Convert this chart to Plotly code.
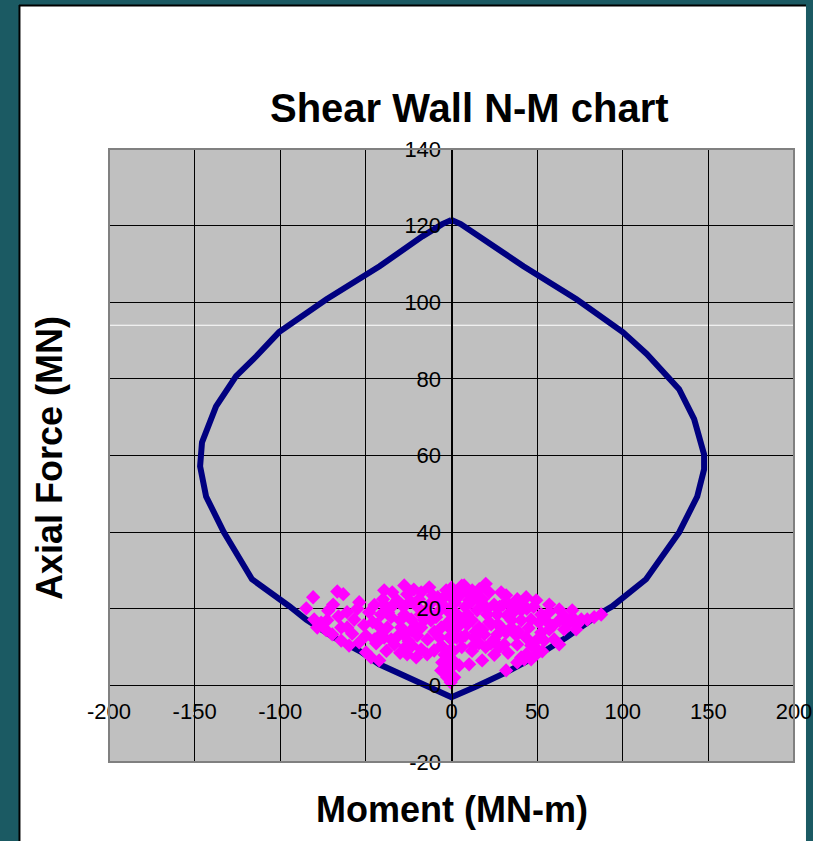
import plotly.graph_objects as go

# Interaction envelope (capacity curve)
env_M = [0, -5.4, -17, -42, -73, -100.7, -114, -125.8, -137.5, -145.7, -146.8, -143.3, -133,
         -116.5, -94.5, -84.9, -69.7, -52.3, -42.2, -23, 0, 14.4, 23.8, 31.9, 49.5, 67, 88,
         93.8, 113.6, 133, 143.5, 147.5, 147.5, 141.7, 132.9, 122, 114, 100, 73, 42, 17, 5.4, 0]
env_N = [121.5, 120.4, 117.2, 109.4, 100.8, 92.2, 85.9, 80.7, 72.8, 63.4, 57.2, 49.3, 40,
         27.7, 20.6, 17.2, 12.8, 8.6, 5.5, 1.6, -3.1, -0.3, 1.6, 3.4, 7.6, 12.5, 19.1,
         20.6, 27.7, 40, 49.3, 56.4, 60.3, 69.5, 77.3, 82.5, 86.5, 92.2, 100.8, 109.4, 117.2, 120.4, 121.5]

# Demand points (moment, axial force)
dem_M = [-80.8, -84.8, -66.7, -63.2, -69.1, -53.9, -61, -56.8, -80.2, -76.1, -72.6, -78.4, -73.2,
         -69.6, -64.4, -60.9, -64.4, -59.8, -53.9, -51.1, -48.1, -49.9, -47,
         -39.3, -34.6, -27.6, -25.9, -17.7, -13.0, -3.1, -39.3, -31.7, -41.1, -35.2, -27.6, -23.5,
         -43.4, -37.5, -29.4, -23.5, -17.7, -39.3, -35.2, -27.6, -23.0, -17.7, -14.2, -10.1, -6.0,
         -5.4, -6.0, -2.5, -42.2, -9.0, -6.0, -2.5, -16.0, -33.5, -25.9, -20.6, -1.3, -4.3, -0.2,
         7.4, 12.1, 16.2, 22.0, 29.0, 31.9, 10.3, 17.3, 24.9, 38.4, 43.6, 37.8, 40.7, 3.3, 9.2,
         15.0, 20.8, 26.7, 32.5, 3.3, 9.2, 16.2, 23.2, 29.0, 34.9, 40.7, 46.5, 5.7, 13.3, 19.1,
         26.7, 31.9, 37.8, 43.6, 38.4, 46.5, 43.6, 40.7, 46.5, 4.5, 10.3, 17.9, 31.9, 1.6, 24.9, 30.8,
         49.5, 57.1, 62.9, 70.5, 52.4, 51.2, 57.1, 62.9, 65.8, 57.1, 52.4, 49.5, 54.1, 60.0, 62.9,
         50.0, 49.5, 70.5, 73.4, 75.8, 79.3, 83.3, 87.4, 72.8,
         -0.2, -0.2, -0.2, -0.2, -0.2, -0.2, -0.5, -1.3, 38.4, 42.5, 53.0,
         -20, -12, -8, -14, -20, -30, -28, -10, 2, 5, 8, 12, 18, 22, 28, 34, 6, 12, 20, -4, 0, -3,
         3, 25, 14, -18, -24, -45, -45, -50, -38, -30, 35, 44, 28, 2, -2, 16, -8, 10, -36, -25, -12,
         -44, -41, -37, -33, -31, -27, -21, -19, -15, -11, -7, -5, -1, 1, 3, 6, 8, 11, 13, 15, 18,
         21, 23, 27, 30, 33, 36, 39, 42, 45, 48, 55, 59, 66, 68, -58, -66, -72, -55, -46, -40, -22,
         0, 6, 20]
dem_N = [23.0, 20.1, 24.5, 23.8, 21.1, 21.7, 19.1, 17.2, 17.2, 16.4, 17.0, 15.1, 14.4,
         13.3, 15.1, 15.1, 11.7, 10.4, 11.2, 15.7, 19.1, 8.6, 7.3,
         24.8, 24.3, 26.1, 23.8, 24.3, 25.6, 24.8, 21.1, 22.2, 18.5, 17.8, 18.5, 17.2,
         15.9, 15.1, 15.1, 14.4, 15.1, 12.5, 12.0, 13.1, 10.4, 9.4, 8.1, 9.1, 10.4,
         6.0, 3.9, 2.1, 6.5, 17.8, 15.1, 19.6, 17.0, 10.7, 8.1, 7.3, 12.5, 23.0, 23.0,
         26.1, 24.8, 25.1, 24.3, 24.3, 23.5, 22.2, 21.7, 21.1, 22.5, 23.0, 20.4, 19.6, 18.5, 18.5,
         19.6, 18.5, 18.5, 18.3, 15.1, 15.9, 15.1, 15.9, 15.1, 15.1, 17.0, 17.2, 12.5, 12.5, 13.3,
         13.3, 13.8, 13.1, 12.5, 10.7, 10.4, 8.1, 7.3, 6.8, 5.2, 5.5, 6.5, 3.9, 2.1, 12.0, 10.7,
         22.2, 21.1, 19.8, 19.6, 18.5, 16.4, 19.1, 17.0, 14.6, 14.6, 13.8, 11.7, 11.7, 12.0, 10.7,
         9.4, 8.1, 17.8, 15.9, 17.2, 17.2, 17.8, 18.5, 14.6,
         19.8, 17.2, 14.6, 9.4, 6.8, 4.7, 0.8, 2.3, 6.0, 6.8, 8.9,
         20.5, 21.5, 19, 12, 13, 17, 20.5, 14, 21.5, 23.5, 20.5, 17, 22.5, 16.5, 20.5, 21, 10, 9, 10,
         8, 12, 16, 12.5, 8, 14, 18.5, 22, 21, 12, 13, 9, 8.5, 17, 20, 10, 6, 4.5, 11, 23, 24, 20,
         11.5, 17,
         11, 13.5, 19, 21.5, 13, 10, 15.5, 22.5, 19.5, 23.5, 12.5, 21, 15, 9, 24.5, 16.5, 13, 21.5,
         10.5, 23, 14.5, 20, 11, 16, 21, 8.5, 19, 14, 21, 15, 20.5, 17, 15.5, 18, 16, 13.5, 18,
         19.5, 20, 16.5, 22.5, 25, 25.5, 26, 26.5]

x_ticks = [-200, -150, -100, -50, 0, 50, 100, 150, 200]
x_tick_labels = ["-200", "-150", "-100", "-50", "0", "50", "100", "150", "200"]
y_ticks = [-20, 0, 20, 40, 60, 80, 100, 120, 140]
y_tick_labels = ["-20", "0", "20", "40", "60", "80", "100", "120", "140"]

FONT = "Liberation Sans, Arial, sans-serif"
TEAL = "#1b5a63"

fig = go.Figure()
fig.add_trace(go.Scatter(x=env_M, y=env_N, mode="lines",
                         line=dict(color="#000080", width=6), hoverinfo="skip"))
fig.add_trace(go.Scatter(x=dem_M, y=dem_N, mode="markers",
                         marker=dict(symbol="diamond", size=11, color="#FF00FF",
                                     line=dict(width=0))))

fig.update_layout(
    width=813, height=841, autosize=False,
    margin=dict(l=109, r=19, t=149, b=79, autoexpand=False),
    paper_bgcolor="white", plot_bgcolor="#C0C0C0",
    showlegend=False,
    font=dict(family=FONT, color="black"),
)
fig.update_xaxes(range=[-200, 200], tickvals=x_ticks, ticktext=x_tick_labels,
                 showgrid=True, gridcolor="black", gridwidth=1, zeroline=False,
                 showline=True, linecolor="black", linewidth=1,
                 ticks="outside", ticklen=6, tickcolor="black",
                 anchor="free", position=0.125, automargin=False,
                 tickfont=dict(size=22, family=FONT, color="black"))
fig.update_yaxes(range=[-20, 140], tickvals=y_ticks, ticktext=y_tick_labels,
                 showgrid=True, gridcolor="black", gridwidth=1, zeroline=False,
                 showline=True, linecolor="black", linewidth=1,
                 ticks="outside", ticklen=6, tickcolor="black",
                 anchor="free", position=0.5, side="left", automargin=False,
                 tickfont=dict(size=22, family=FONT, color="black"))

shapes = [
    # teal surroundings
    dict(type="rect", xref="paper", yref="paper", x0=-0.17, x1=-0.1314, y0=-0.14, y1=1.26,
         fillcolor=TEAL, line=dict(width=0), layer="below"),
    dict(type="rect", xref="paper", yref="paper", x0=1.0175, x1=1.04, y0=-0.14, y1=1.26,
         fillcolor=TEAL, line=dict(width=0), layer="below"),
    dict(type="rect", xref="paper", yref="paper", x0=-0.17, x1=1.04, y0=1.2349, y1=1.26,
         fillcolor=TEAL, line=dict(width=0), layer="below"),
    # black panel edges
    dict(type="line", xref="paper", yref="paper", x0=-0.1314, x1=1.0175, y0=1.2341, y1=1.2341,
         line=dict(color="black", width=2)),
    dict(type="line", xref="paper", yref="paper", x0=-0.1307, x1=-0.1307, y0=-0.14, y1=1.2349,
         line=dict(color="black", width=2)),
    # thin white artifact line
    dict(type="line", xref="paper", yref="y", x0=0, x1=1, y0=94, y1=94,
         line=dict(color="white", width=1), layer="below"),
    # plot border
    dict(type="rect", xref="paper", yref="paper", x0=0, x1=1, y0=0, y1=1,
         line=dict(color="#808080", width=2), fillcolor="rgba(0,0,0,0)", layer="above"),
]
fig.update_layout(shapes=shapes)

fig.update_layout(annotations=[
    dict(text="Shear Wall N-M chart", xref="paper", yref="paper", x=0.526, y=1.067,
         showarrow=False, xanchor="center", yanchor="middle",
         font=dict(size=40, family=FONT, color="black", weight="bold")),
    dict(text="Axial Force (MN)", xref="paper", yref="paper", x=-0.0861, y=0.496,
         showarrow=False, xanchor="center", yanchor="middle", textangle=-90,
         font=dict(size=36, family=FONT, color="black", weight="bold")),
    dict(text="Moment (MN-m)", xref="paper", yref="paper", x=0.5007, y=-0.0783,
         showarrow=False, xanchor="center", yanchor="middle",
         font=dict(size=36, family=FONT, color="black", weight="bold")),
])

fig.write_html("out.html", config={"displayModeBar": False},
               post_script="document.body.style.margin='0';document.body.style.overflow='hidden';")
